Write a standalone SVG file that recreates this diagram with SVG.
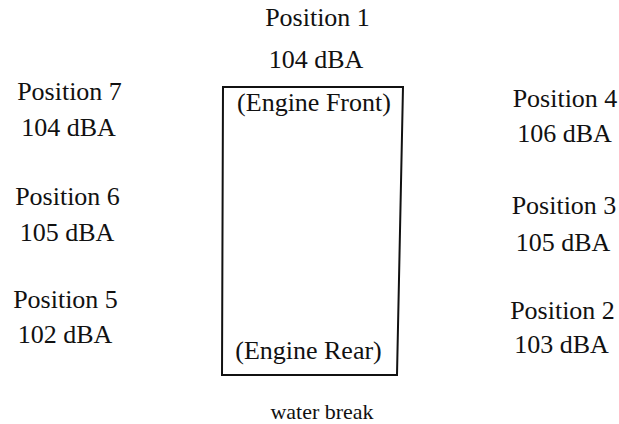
<svg xmlns="http://www.w3.org/2000/svg" width="619" height="424" viewBox="0 0 619 424">
<style>
text{font-family:'Liberation Serif','DejaVu Serif',serif;font-size:26px;fill:#111;text-anchor:middle}
.small{font-size:22px}
.box{fill:none;stroke:#111;stroke-width:2}
</style>
<rect width="619" height="424" fill="#fff"/>
<g id="engine">
<path class="box" d="M223,87 L403,87 L397,375 L222,375 Z"/>
<text x="314" y="111">(Engine Front)</text>
<text x="308.5" y="359">(Engine Rear)</text>
</g>
<g id="position1"><text x="317.5" y="26">Position 1</text><text x="316" y="68">104 dBA</text></g>
<g id="position7"><text x="69.5" y="100">Position 7</text><text x="68.5" y="136">104 dBA</text></g>
<g id="position6"><text x="67.5" y="205">Position 6</text><text x="67" y="241">105 dBA</text></g>
<g id="position5"><text x="65.5" y="308">Position 5</text><text x="65" y="343">102 dBA</text></g>
<g id="position4"><text x="565" y="107">Position 4</text><text x="564.5" y="142">106 dBA</text></g>
<g id="position3"><text x="564" y="214">Position 3</text><text x="563" y="251">105 dBA</text></g>
<g id="position2"><text x="562.5" y="319">Position 2</text><text x="561.5" y="353">103 dBA</text></g>
<g id="waterbreak"><text class="small" x="322" y="419">water break</text></g>
<g id="connectors"/>
</svg>
